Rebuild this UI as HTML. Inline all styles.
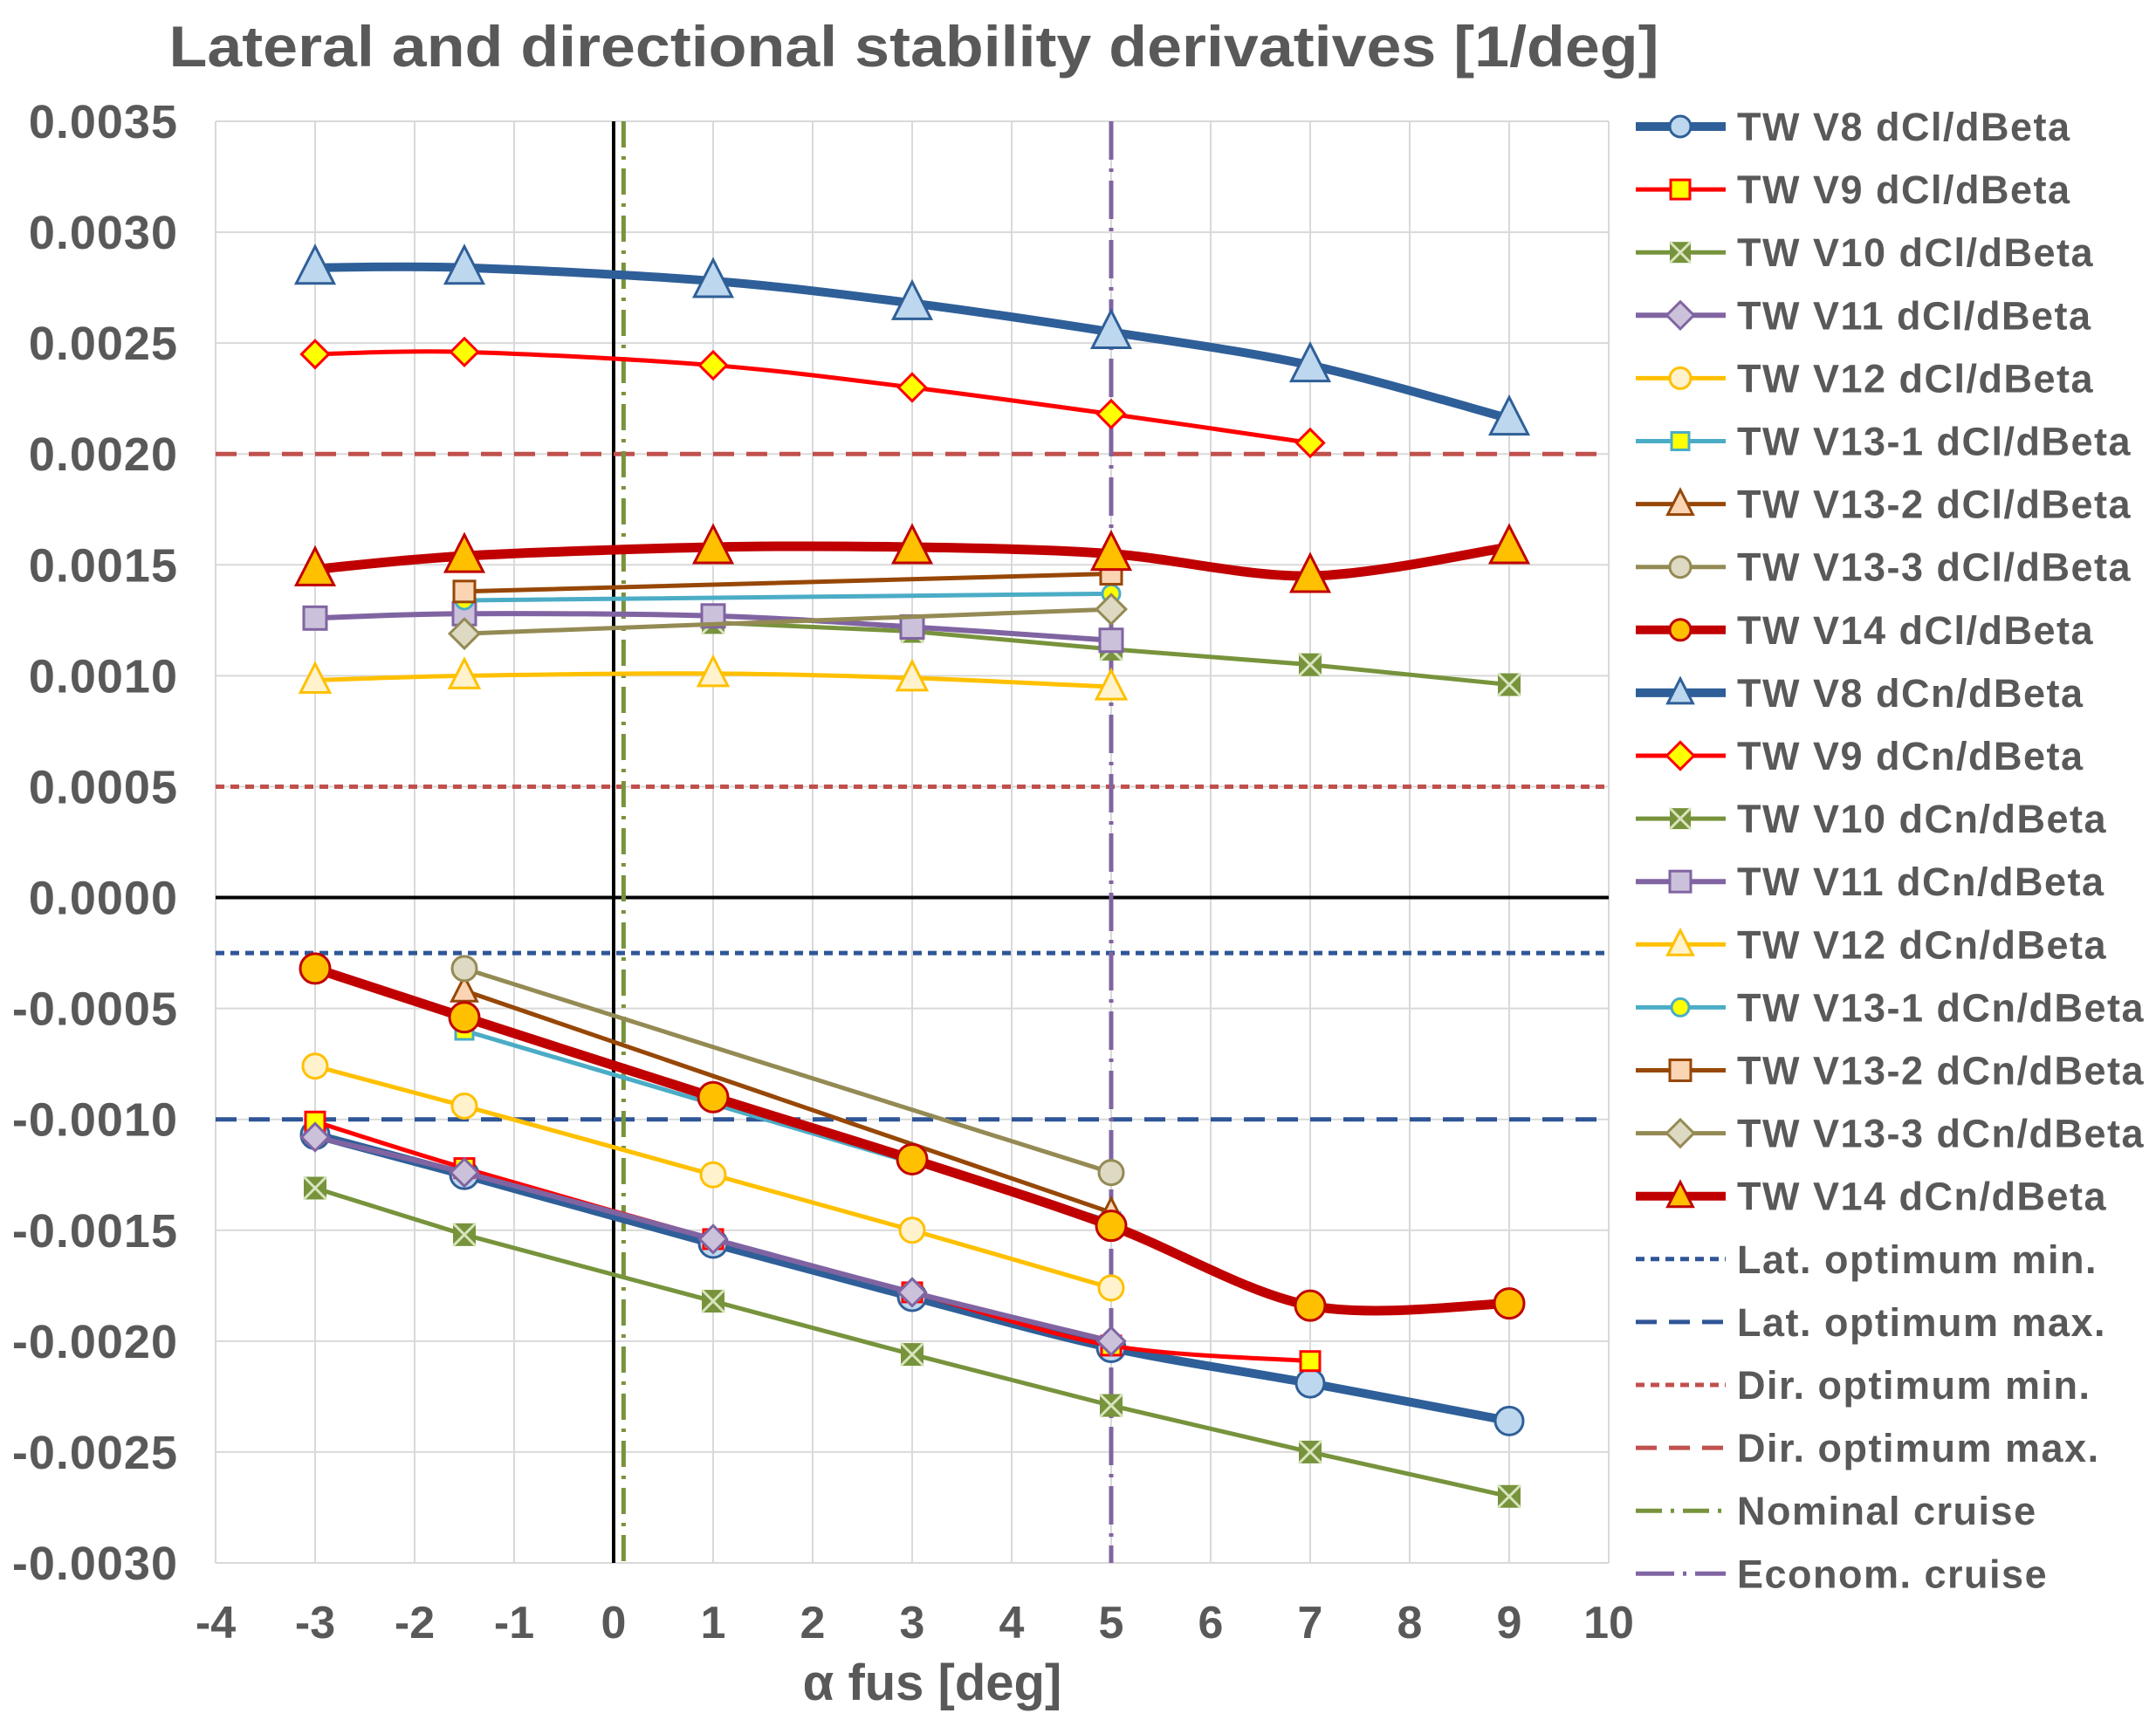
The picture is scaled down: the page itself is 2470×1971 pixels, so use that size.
<!DOCTYPE html>
<html><head><meta charset="utf-8"><style>
html,body{margin:0;padding:0;background:#fff;}
svg{display:block;font-family:"Liberation Sans",sans-serif;font-weight:bold;}
</style></head><body>
<svg id="chart" width="2470" height="1971" viewBox="0 0 2470 1971" xmlns="http://www.w3.org/2000/svg">
<text x="1047" y="76" text-anchor="middle" font-size="66" fill="#595959" textLength="1707" lengthAdjust="spacingAndGlyphs">Lateral and directional stability derivatives [1/deg]</text>
<g id="grid"></g><g id="refs"></g><g id="series"></g><g id="axes"></g><g id="legend"></g>
<text x="1068" y="1948" text-anchor="middle" font-size="58" fill="#595959">α fus [deg]</text>
</svg>
<script>
const xTicks=[-4,-3,-2,-1,0,1,2,3,4,5,6,7,8,9,10];
const yTicks=[0.0035,0.0030,0.0025,0.0020,0.0015,0.0010,0.0005,0.0000,-0.0005,-0.0010,-0.0015,-0.0020,-0.0025,-0.0030];
const yTickLabels=["0.0035","0.0030","0.0025","0.0020","0.0015","0.0010","0.0005","0.0000","-0.0005","-0.0010","-0.0015","-0.0020","-0.0025","-0.0030"];
const xA=[-3,-1.5,1,3,5,7,9];
const x5=[-3,-1.5,1,3,5];
const x6=[-3,-1.5,1,3,5,7];
const x13=[-1.5,5];
const xV10n=[1,3,5,7,9];
const v8cl=[-0.00107,-0.00125,-0.00156,-0.0018,-0.00203,-0.00219,-0.00236];
const v9cl=[-0.00101,-0.00122,-0.00154,-0.00178,-0.00202,-0.00209];
const v10cl=[-0.00131,-0.00152,-0.00182,-0.00206,-0.00229,-0.0025,-0.0027];
const v11cl=[-0.00108,-0.00124,-0.00154,-0.00178,-0.002];
const v12cl=[-0.00076,-0.00094,-0.00125,-0.0015,-0.00176];
const v131cl=[-0.0006,-0.00146];
const v132cl=[-0.00042,-0.00142];
const v133cl=[-0.00032,-0.00124];
const v14cl=[-0.00032,-0.00054,-0.0009,-0.00118,-0.00148,-0.00184,-0.00183];
const v8cn=[0.00284,0.00284,0.00278,0.00268,0.00255,0.0024,0.00216];
const v9cn=[0.00245,0.00246,0.0024,0.0023,0.00218,0.00205];
const v10cn=[0.00124,0.0012,0.00112,0.00105,0.00096];
const v11cn=[0.00126,0.00128,0.00127,0.00122,0.00116];
const v12cn=[0.00098,0.001,0.00101,0.00099,0.00095];
const v131cn=[0.00134,0.00137];
const v132cn=[0.00138,0.00146];
const v133cn=[0.00119,0.0013];
const v14cn=[0.00148,0.00154,0.00158,0.00158,0.00155,0.00145,0.00158];
const refY=[-0.00025,-0.001,0.0005,0.002];
const refX=[0.1,5];

const NS="http://www.w3.org/2000/svg";
const X0=247,X1=1843,Y0=139,Y1=1791;
const sx=v=>X0+(v+4)/14*(X1-X0);
const sy=v=>Y0+(0.0035-v)/0.0065*(Y1-Y0);
function mk(tag,attrs,parent){const e=document.createElementNS(NS,tag);for(const k in attrs)e.setAttribute(k,attrs[k]);parent.appendChild(e);return e;}
const grid=document.getElementById('grid'),refs=document.getElementById('refs'),ser=document.getElementById('series'),axes=document.getElementById('axes'),leg=document.getElementById('legend');

xTicks.forEach((t,i)=>{
  const l=mk('line',{x1:sx(t),x2:sx(t),y1:Y0,y2:Y1,stroke:'#d9d9d9','stroke-width':2},grid);
  
  
  const tx=mk('text',{x:sx(t),y:1877,'text-anchor':'middle','font-size':52,fill:'#595959'},axes);
  tx.textContent=String(t);
  
  
});
yTicks.forEach((t,i)=>{
  const l=mk('line',{x1:X0,x2:X1,y1:sy(t),y2:sy(t),stroke:'#d9d9d9','stroke-width':2},grid);
  
  
  const tx=mk('text',{x:204,y:sy(t)+19,'text-anchor':'end','font-size':54,fill:'#595959','letter-spacing':'1'},axes);
  tx.textContent=yTickLabels[i];
  
  
});
let a=mk('line',{x1:X0,x2:X1,y1:sy(0),y2:sy(0),stroke:'#000','stroke-width':4},refs);


a=mk('line',{x1:sx(0),x2:sx(0),y1:Y0,y2:Y1,stroke:'#000','stroke-width':4},refs);



const refStyles=[
 {c:'#2f5597',d:'10,7',n:'lat-optimum-min'},
 {c:'#2f5597',d:'24,14',n:'lat-optimum-max'},
 {c:'#c0504d',d:'10,7',n:'dir-optimum-min'},
 {c:'#c0504d',d:'24,14',n:'dir-optimum-max'}];
refY.forEach((v,i)=>{
  const l=mk('line',{x1:X0,x2:X1,y1:sy(v),y2:sy(v),stroke:refStyles[i].c,'stroke-width':5,'stroke-dasharray':refStyles[i].d},refs);
  
  
});
let r=mk('line',{x1:sx(refX[0]),x2:sx(refX[0]),y1:Y0,y2:Y1,stroke:'#77933c','stroke-width':5,'stroke-dasharray':'30,10,4,10'},refs);


r=mk('line',{x1:sx(refX[1]),x2:sx(refX[1]),y1:Y0,y2:Y1,stroke:'#8064a2','stroke-width':5,'stroke-dasharray':'44,10,4,10'},refs);



function smooth(pts){
  if(pts.length<3)return 'M'+pts.map(p=>p.join(',')).join('L');
  let d='M'+pts[0].join(',');
  for(let i=0;i<pts.length-1;i++){
    const p0=pts[Math.max(0,i-1)],p1=pts[i],p2=pts[i+1],p3=pts[Math.min(pts.length-1,i+2)];
    const t=0.16;
    const c1=[p1[0]+(p2[0]-p0[0])*t,p1[1]+(p2[1]-p0[1])*t];
    const c2=[p2[0]-(p3[0]-p1[0])*t,p2[1]-(p3[1]-p1[1])*t];
    d+='C'+c1.join(',')+' '+c2.join(',')+' '+p2.join(',');
  }
  return d;
}
function marker(g,type,x,y,s,fill,stroke,sw){
  let e;
  if(type==='circle')e=mk('circle',{cx:x,cy:y,r:s,fill,stroke,'stroke-width':sw},g);
  else if(type==='square')e=mk('rect',{x:x-s,y:y-s,width:2*s,height:2*s,fill,stroke,'stroke-width':sw},g);
  else if(type==='diamond')e=mk('polygon',{points:`${x},${y-s*1.3} ${x+s*1.3},${y} ${x},${y+s*1.3} ${x-s*1.3},${y}`,fill,stroke,'stroke-width':sw},g);
  else if(type==='triangle')e=mk('polygon',{points:`${x},${y-s*1.35} ${x+s*1.2},${y+s} ${x-s*1.2},${y+s}`,fill,stroke,'stroke-width':sw},g);
  else if(type==='xsq'){e=mk('g',{},g);mk('rect',{x:x-s,y:y-s,width:2*s,height:2*s,fill,stroke:'none'},e);
    mk('path',{d:`M${x-s},${y-s}L${x+s},${y+s}M${x+s},${y-s}L${x-s},${y+s}`,stroke:'#d8e4bc','stroke-width':sw},e);}
  return e;
}
const series=[
 {n:'TW V8 dCl/dBeta',k:'v8-dcl',x:xA,y:v8cl,c:'#2f5f98',w:10,m:'circle',f:'#bdd7ee',ms:16,s:true},
 {n:'TW V9 dCl/dBeta',k:'v9-dcl',x:x6,y:v9cl,c:'#ff0000',w:5,m:'square',f:'#ffff00',ms:11,s:true},
 {n:'TW V10 dCl/dBeta',k:'v10-dcl',x:xA,y:v10cl,c:'#77933c',w:5,m:'xsq',f:'#77933c',ms:13,s:false},
 {n:'TW V11 dCl/dBeta',k:'v11-dcl',x:x5,y:v11cl,c:'#8064a2',w:6,m:'diamond',f:'#ccc1da',ms:12,s:true},
 {n:'TW V12 dCl/dBeta',k:'v12-dcl',x:x5,y:v12cl,c:'#ffc000',w:5,m:'circle',f:'#fff2cc',ms:14,s:true},
 {n:'TW V13-1 dCl/dBeta',k:'v13-1-dcl',x:x13,y:v131cl,c:'#4bacc6',w:5,m:'square',f:'#ffff00',ms:10,s:false},
 {n:'TW V13-2 dCl/dBeta',k:'v13-2-dcl',x:x13,y:v132cl,c:'#974706',w:5,m:'triangle',f:'#fbd4b4',ms:12,s:false},
 {n:'TW V13-3 dCl/dBeta',k:'v13-3-dcl',x:x13,y:v133cl,c:'#948a54',w:5,m:'circle',f:'#ddd9c3',ms:14,s:false},
 {n:'TW V14 dCl/dBeta',k:'v14-dcl',x:xA,y:v14cl,c:'#c00000',w:11,m:'circle',f:'#ffc000',ms:17,s:true},
 {n:'TW V8 dCn/dBeta',k:'v8-dcn',x:xA,y:v8cn,c:'#2f5f98',w:10,m:'triangle',f:'#bdd7ee',ms:18,s:true},
 {n:'TW V9 dCn/dBeta',k:'v9-dcn',x:x6,y:v9cn,c:'#ff0000',w:5,m:'diamond',f:'#ffff00',ms:12,s:true},
 {n:'TW V10 dCn/dBeta',k:'v10-dcn',x:xV10n,y:v10cn,c:'#77933c',w:5,m:'xsq',f:'#77933c',ms:13,s:false},
 {n:'TW V11 dCn/dBeta',k:'v11-dcn',x:x5,y:v11cn,c:'#8064a2',w:6,m:'square',f:'#ccc1da',ms:13,s:true},
 {n:'TW V12 dCn/dBeta',k:'v12-dcn',x:x5,y:v12cn,c:'#ffc000',w:5,m:'triangle',f:'#fff2cc',ms:14,s:true},
 {n:'TW V13-1 dCn/dBeta',k:'v13-1-dcn',x:x13,y:v131cn,c:'#4bacc6',w:5,m:'circle',f:'#ffff00',ms:10,s:false},
 {n:'TW V13-2 dCn/dBeta',k:'v13-2-dcn',x:x13,y:v132cn,c:'#974706',w:5,m:'square',f:'#fbd4b4',ms:12,s:false},
 {n:'TW V13-3 dCn/dBeta',k:'v13-3-dcn',x:x13,y:v133cn,c:'#948a54',w:5,m:'diamond',f:'#ddd9c3',ms:13,s:false},
 {n:'TW V14 dCn/dBeta',k:'v14-dcn',x:xA,y:v14cn,c:'#c00000',w:11,m:'triangle',f:'#ffc000',ms:18,s:true}
];
series.forEach(s=>{
  const g=mk('g',{},ser);
  
  
  const pts=s.x.map((xv,i)=>[sx(xv),sy(s.y[i])]);
  const p=mk('path',{d:s.s?smooth(pts):'M'+pts.map(q=>q.join(',')).join('L'),fill:'none',stroke:s.c,'stroke-width':s.w,'stroke-linejoin':'round','stroke-linecap':'round'},g);
  
  
  pts.forEach(q=>{
    const m=marker(g,s.m,q[0],q[1],s.ms,s.f,s.m==='xsq'?'none':s.c,3);
    
    
  });
});
const LY=145,LD=72.1;
const legExtra=[
 {n:'Lat. optimum min.',c:'#2f5597',d:'10,7'},
 {n:'Lat. optimum max.',c:'#2f5597',d:'24,14'},
 {n:'Dir. optimum min.',c:'#c0504d',d:'10,7'},
 {n:'Dir. optimum max.',c:'#c0504d',d:'24,14'},
 {n:'Nominal cruise',c:'#77933c',d:'30,10,4,10'},
 {n:'Econom. cruise',c:'#8064a2',d:'44,10,4,10'}];
series.forEach((s,i)=>{
  const y=LY+i*LD;
  const g=mk('g',{},leg);
  
  
  mk('line',{x1:1874,x2:1977,y1:y,y2:y,stroke:s.c,'stroke-width':Math.min(s.w,10)},g);
  marker(g,s.m,1925,y,Math.min(s.ms,12),s.f,s.m==='xsq'?'none':s.c,3);
  const t=mk('text',{x:1990,y:y+16,'font-size':45,fill:'#595959','letter-spacing':'1.5'},g);
  t.textContent=s.n;
});
legExtra.forEach((e,j)=>{
  const y=LY+(series.length+j)*LD;
  const g=mk('g',{},leg);
  
  
  mk('line',{x1:1874,x2:1977,y1:y,y2:y,stroke:e.c,'stroke-width':5,'stroke-dasharray':e.d},g);
  const t=mk('text',{x:1990,y:y+16,'font-size':45,fill:'#595959','letter-spacing':'1.5'},g);
  t.textContent=e.n;
});
</script>
</body></html>
